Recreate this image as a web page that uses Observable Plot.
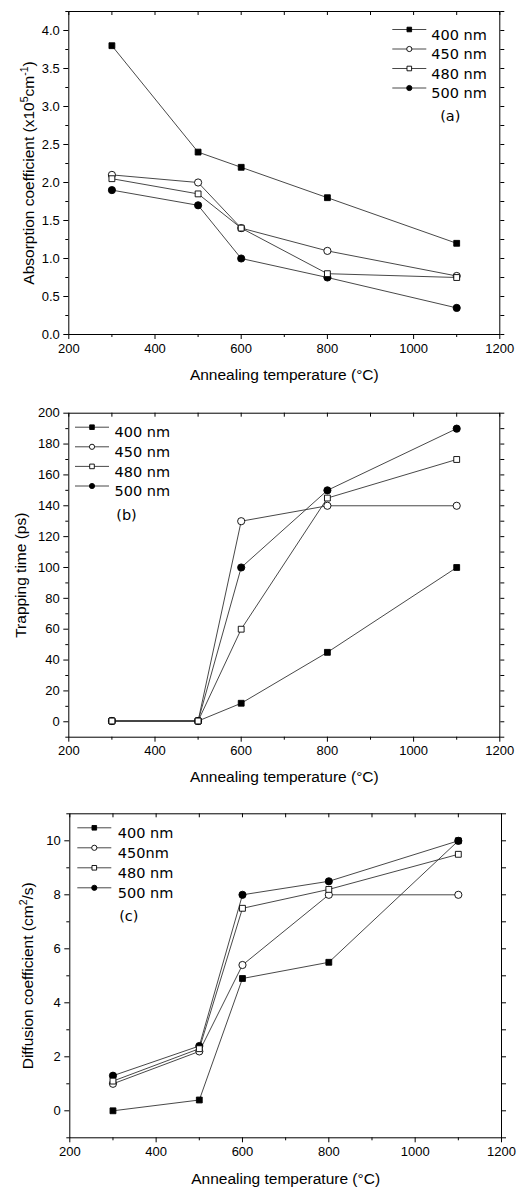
<!DOCTYPE html>
<html>
<head>
<meta charset="utf-8">
<script src="https://cdn.jsdelivr.net/npm/d3@7"></script>
<script src="https://cdn.jsdelivr.net/npm/@observablehq/plot@0.6"></script>
<style>
  body { margin: 0; background: #fff; }
  #chart svg { display: block; }
</style>
</head>
<body>
<div id="chart"></div>
<script>
// ---------------- data ----------------
const temps = [300, 500, 600, 800, 1100];
const seriesKeys = ["400", "450", "480", "500"];
const symbols = ["square", "circle", "square", "circle"];
const fills = ["black", "white", "white", "black"];
const drawOrder = [0, 3, 1, 2];

const absorption_400 = [3.8, 2.4, 2.2, 1.8, 1.2];
const absorption_450 = [2.1, 2.0, 1.4, 1.1, 0.77];
const absorption_480 = [2.05, 1.85, 1.4, 0.8, 0.75];
const absorption_500 = [1.9, 1.7, 1.0, 0.75, 0.35];

const trapping_400 = [0.5, 0.5, 12, 45, 100];
const trapping_450 = [0.5, 0.5, 130, 140, 140];
const trapping_480 = [0.5, 0.5, 60, 145, 170];
const trapping_500 = [0.5, 0.5, 100, 150, 190];

const diffusion_400 = [0, 0.4, 4.9, 5.5, 10];
const diffusion_450 = [1.0, 2.2, 5.4, 8.0, 8.0];
const diffusion_480 = [1.1, 2.3, 7.5, 8.2, 9.5];
const diffusion_500 = [1.3, 2.4, 8.0, 8.5, 10];

const legendA = ["400 nm", "450 nm", "480 nm", "500 nm"];
const legendB = ["400 nm", "450 nm", "480 nm", "500 nm"];
const legendC = ["400 nm", "450nm", "480 nm", "500 nm"];

const xMajor = [200, 400, 600, 800, 1000, 1200];
const xMinor = [300, 500, 700, 900, 1100];
const xLabel = "Annealing temperature (°C)";

const yMajorA = [0, 0.5, 1.0, 1.5, 2.0, 2.5, 3.0, 3.5, 4.0];
const yMinorA = [0.25, 0.75, 1.25, 1.75, 2.25, 2.75, 3.25, 3.75, 4.25];
const yMajorB = [0, 20, 40, 60, 80, 100, 120, 140, 160, 180, 200];
const yMinorB = [-10, 10, 30, 50, 70, 90, 110, 130, 150, 170, 190];
const yMajorC = [0, 2, 4, 6, 8, 10];
const yMinorC = [-1, 1, 3, 5, 7, 9, 11];

const yLabelA = [["Absorption coefficient (x10"], ["5", true], ["cm"], ["-1", true], [")"]];
const yLabelB = [["Trapping time (ps)"]];
const yLabelC = [["Diffusion coefficient (cm"], ["2", true], ["/s)"]];

// ---------------- drawing ----------------
const FONT = "'Liberation Sans', Arial, Helvetica, sans-serif";
const LEGEND_FONT = "'DejaVu Sans', sans-serif";
const legendLine = { draw(ctx) { ctx.moveTo(-17, 0); ctx.lineTo(17, 0); } };

function panel(cfg) {
  const data = [];
  cfg.series.forEach((vals, i) => vals.forEach((v, j) =>
    data.push({ series: seriesKeys[i], temp: temps[j], value: v })));
  const fh = cfg.height - cfg.marginTop - cfg.marginBottom;
  const allX = xMajor.concat(xMinor);
  const allY = cfg.yMajor.concat(cfg.yMinor);
  const plainLabel = cfg.yLabel.map(p => p[0]).join("");

  const marks = [
    Plot.line(data, { x: "temp", y: "value", z: "series", stroke: "#333", strokeWidth: 0.9 }),
  ];
  drawOrder.forEach(i => {
    marks.push(Plot.dot(data.filter(d => d.series === seriesKeys[i]), {
      x: "temp", y: "value", symbol: symbols[i], fill: fills[i],
      stroke: "#000", strokeWidth: 0.9, r: symbols[i] === "square" ? 3.3 : 3.6
    }));
  });
  // axes
  marks.push(
    Plot.axisX({ ticks: xMajor, anchor: "bottom", tickSize: 5, tickPadding: 4, label: null,
      tickFormat: d => String(d), fontSize: 13, stroke: "#000" }),
    Plot.axisX({ ticks: xMinor, anchor: "bottom", tickSize: 3, label: null, tickFormat: () => "" }),
    Plot.axisY({ ticks: cfg.yMajor, anchor: "left", tickSize: 5, tickPadding: 4, label: null,
      tickFormat: cfg.yFormat, fontSize: 13 }),
    Plot.axisY({ ticks: cfg.yMinor, anchor: "left", tickSize: 3, label: null, tickFormat: () => "" }),
    Plot.axisY({ ticks: allY, anchor: "right", tickSize: 4, label: null, tickFormat: () => "" }),
    Plot.tickX(allX, { x: d => d, insetBottom: fh - 4, stroke: "#000" }),
    Plot.frame({ stroke: "#000", strokeWidth: 1 }),
    Plot.text([xLabel], { frameAnchor: "bottom", dy: cfg.xLabelDy, textAnchor: "middle", fontSize: 15.5, fill: "#000" }),
    Plot.text([plainLabel], { frameAnchor: "left", dx: cfg.yLabelDx, rotate: -90, textAnchor: "middle", fontSize: 15.5, fill: "#000" })
  );
  // legend
  const L = cfg.legend;
  cfg.legendNames.forEach((name, i) => {
    const dy = L.dy0 + i * L.step;
    marks.push(
      Plot.dot([name], { frameAnchor: L.anchor, dx: L.mx, dy, symbol: legendLine, fill: "none", stroke: "#333", strokeWidth: 0.9 }),
      Plot.dot([name], { frameAnchor: L.anchor, dx: L.mx, dy, symbol: symbols[i], fill: fills[i], stroke: "#000", strokeWidth: 0.9, r: 2.6 }),
      Plot.text([name], { frameAnchor: L.anchor, dx: L.tx, dy, textAnchor: "start", fontSize: 14.5, fontFamily: LEGEND_FONT, fill: "#000" })
    );
  });
  marks.push(Plot.text([cfg.tag], { frameAnchor: L.anchor, dx: L.tagDx, dy: L.tagDy, textAnchor: "middle", fontSize: 14.5, fontFamily: LEGEND_FONT, fill: "#000" }));

  const svg = Plot.plot({
    width: 531, height: cfg.height,
    marginTop: cfg.marginTop, marginBottom: cfg.marginBottom,
    marginLeft: cfg.marginLeft, marginRight: cfg.marginRight,
    x: { domain: [200, 1200] },
    y: { domain: cfg.yDomain },
    style: { fontFamily: FONT, fontSize: "13px", color: "#000", background: "#fff" },
    marks
  });

  // superscripts in the y label
  svg.querySelectorAll("text").forEach(t => {
    if (t.textContent === plainLabel && cfg.yLabel.length > 1) {
      t.textContent = "";
      const ns = "http://www.w3.org/2000/svg";
      let shifted = false;
      cfg.yLabel.forEach(([s, sup]) => {
        const ts = document.createElementNS(ns, "tspan");
        ts.textContent = s;
        if (sup) {
          ts.setAttribute("font-size", "10.5");
          ts.setAttribute("dy", "-6");
          shifted = true;
        } else if (shifted) {
          ts.setAttribute("dy", "6");
          shifted = false;
        }
        t.appendChild(ts);
      });
    }
  });
  return svg;
}

const chart = document.getElementById("chart");
chart.appendChild(panel({
  height: 392, marginTop: 11, marginBottom: 58, marginLeft: 68.3, marginRight: 31.7,
  yDomain: [0, 4.25], yMajor: yMajorA, yMinor: yMinorA, yFormat: d3.format(".1f"),
  series: [absorption_400, absorption_450, absorption_480, absorption_500],
  yLabel: yLabelA, xLabelDy: 45, yLabelDx: -40,
  legendNames: legendA, tag: "(a)",
  legend: { anchor: "top-right", mx: -90.5, tx: -68.5, dy0: 18, step: 19.5, tagDx: -49.5, tagDy: 99 }
}));
chart.appendChild(panel({
  height: 398, marginTop: 20.7, marginBottom: 53.3, marginLeft: 68.3, marginRight: 31.7,
  yDomain: [-10, 200], yMajor: yMajorB, yMinor: yMinorB, yFormat: d => String(d),
  series: [trapping_400, trapping_450, trapping_480, trapping_500],
  yLabel: yLabelB, xLabelDy: 44.5, yLabelDx: -47.5,
  legendNames: legendB, tag: "(b)",
  legend: { anchor: "top-left", mx: 23.2, tx: 45.7, dy0: 14, step: 19.6, tagDx: 57.7, tagDy: 96.6 }
}));
chart.appendChild(panel({
  height: 402, marginTop: 23.3, marginBottom: 54.7, marginLeft: 69.3, marginRight: 30,
  yDomain: [-1, 11], yMajor: yMajorC, yMinor: yMinorC, yFormat: d => String(d),
  series: [diffusion_400, diffusion_450, diffusion_480, diffusion_500],
  yLabel: yLabelC, xLabelDy: 45.7, yLabelDx: -41.5,
  legendNames: legendC, tag: "(c)",
  legend: { anchor: "top-left", mx: 24.5, tx: 48, dy0: 14, step: 20, tagDx: 59, tagDy: 96.7 }
}));
</script>
</body>
</html>
